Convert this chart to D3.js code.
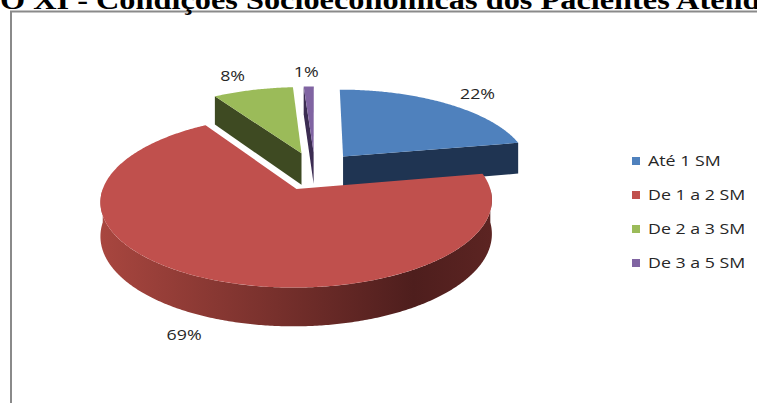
<!DOCTYPE html>
<html>
<head>
<meta charset="utf-8">
<script src="https://cdn.jsdelivr.net/npm/d3@7"></script>
<style>
  html, body { margin: 0; padding: 0; background: #fff; overflow: hidden; }
  svg { display: block; }
</style>
</head>
<body>
<svg id="chart" width="757" height="403"></svg>
<script>
// ---- data ----
const categories = ["Até 1 SM", "De 1 a 2 SM", "De 2 a 3 SM", "De 3 a 5 SM"];
const values = [22, 69, 8, 1];
const valueLabels = ["22%", "69%", "8%", "1%"];
const topColors = ["#4F81BD", "#C0504D", "#9BBB59", "#8064A2"];
const wallColors = ["#1F3452", "#7A302E", "#3E4A22", "#3B2C52"];
const sideLight = ["#2A4670", "#A8463F", "#56682F", "#4E3C6C"];
const sideDark = ["#1A2C46", "#4E1E1D", "#323C1B", "#2E2342"];
const titleText = "GRÁFICO XI - Condições Socioeconômicas dos Pacientes Atendidos";

// ---- view of the tilted pie ----
const W = 757, H = 403;
const cx = 315, cy = 171;      // screen point of the pie centre (top face)
const A = 188;                 // screen half-width of the pie
const K = 0.1357;              // perspective strength
const sinT = 0.424, cosT = 0.906; // tilt of the pie plane
const depth = 0.19;            // thickness, in radii
const explode = 0.24;          // slice offset, in radii
const textStretch = 1.27;      // the whole drawing is a little wider than tall
// small pixel nudges that keep each value label clear of its slice
const labelNudge = [[0, 0], [11, -4], [-6, -3], [-1, -3]];

const svg = d3.select("#chart");
const defs = svg.append("defs");

// Ground-plane point (X to the right, Z towards the viewer, Y up) -> screen
function proj(X, Y, Z) {
  const df = 1 - Z * K;
  return [cx + A * X / df, cy - A * (Y * cosT - Z * sinT) / df];
}

const pie = d3.pie().sort(null).value(d => d);
const arcs = pie(values).map((d, i) => {
  const mid = (d.startAngle + d.endAngle) / 2;
  return Object.assign(d, {
    i, mid,
    ox: explode * Math.sin(mid),
    oz: -explode * Math.cos(mid)
  });
});

const line = d3.line().x(p => p[0]).y(p => p[1]);

function rim(d, a0, a1, Y) {
  const n = Math.max(2, Math.ceil((a1 - a0) / 0.01));
  return d3.range(n + 1).map(j => {
    const t = a0 + (a1 - a0) * j / n;
    return proj(d.ox + Math.sin(t), Y, d.oz - Math.cos(t));
  });
}
function edge(d, t, Y) { return proj(d.ox + Math.sin(t), Y, d.oz - Math.cos(t)); }
function centre(d, Y) { return proj(d.ox, Y, d.oz); }

// ---- frame ----
svg.append("path")
  .attr("d", `M11,${H} V11.5 H${W}`)
  .attr("fill", "none")
  .attr("stroke", "#8a8a8a")
  .attr("stroke-width", 2);

// ---- title (runs past the top edge) ----
const titleFamily = "'Liberation Serif', 'Times New Roman', serif";
const titleSize = 28, titleStretch = 1.155;
const probe = svg.append("text")
  .attr("font-family", titleFamily).attr("font-weight", "bold")
  .attr("font-size", titleSize).text("GRÁFIC");
const lead = probe.node().getComputedTextLength();
probe.remove();
svg.append("g")
  .attr("transform", `translate(${-lead * titleStretch},8.5) scale(${titleStretch},1)`)
  .append("text")
  .attr("font-family", titleFamily)
  .attr("font-weight", "bold")
  .attr("font-size", titleSize)
  .attr("fill", "#000")
  .text(titleText);

// ---- slices, back to front ----
const order = arcs.slice().sort((a, b) => a.oz - b.oz);
const pieG = svg.append("g");

order.forEach(d => {
  const g = pieG.append("g");
  const a0 = d.startAngle, a1 = d.endAngle;

  const grad = defs.append("linearGradient")
    .attr("id", "side" + d.i).attr("x1", 0).attr("x2", 1).attr("y1", 0).attr("y2", 0);
  grad.append("stop").attr("offset", 0).attr("stop-color", sideLight[d.i]);
  grad.append("stop").attr("offset", 0.45).attr("stop-color", d3.interpolateRgb(sideLight[d.i], sideDark[d.i])(0.55));
  grad.append("stop").attr("offset", 0.8).attr("stop-color", sideDark[d.i]);
  grad.append("stop").attr("offset", 1).attr("stop-color", d3.interpolateRgb(sideDark[d.i], sideLight[d.i])(0.15));

  // radial walls facing the viewer
  if (Math.sin(a0) < -1e-6) {
    g.append("path")
      .attr("d", line([centre(d, 0), edge(d, a0, 0), edge(d, a0, -depth), centre(d, -depth)]) + "Z")
      .attr("fill", wallColors[d.i]);
  }
  if (Math.sin(a1) > 1e-6) {
    g.append("path")
      .attr("d", line([centre(d, 0), edge(d, a1, 0), edge(d, a1, -depth), centre(d, -depth)]) + "Z")
      .attr("fill", wallColors[d.i]);
  }
  // outer curved side, front half only
  const lo = Math.max(a0, Math.PI / 2), hi = Math.min(a1, 3 * Math.PI / 2);
  if (hi > lo) {
    const pts = rim(d, lo, hi, 0).concat(rim(d, lo, hi, -depth).reverse());
    g.append("path")
      .attr("d", line(pts) + "Z")
      .attr("fill", `url(#side${d.i})`);
  }
  // top face
  g.append("path")
    .attr("d", line([centre(d, 0)].concat(rim(d, a0, a1, 0))) + "Z")
    .attr("fill", topColors[d.i]);
});

// ---- value labels ----
const labelFont = "'Open Sans', 'Liberation Sans', sans-serif";
arcs.forEach(d => {
  const Z = d.oz - 1.2 * Math.cos(d.mid);
  const X = d.ox + 1.32 * Math.sin(d.mid);
  const p = proj(X, Z > 0 ? -depth : 0, Z);
  const [nx, ny] = labelNudge[d.i];
  svg.append("g")
    .attr("transform", `translate(${p[0] + nx},${p[1] + ny}) scale(${textStretch},1)`)
    .append("text")
    .attr("text-anchor", "middle")
    .attr("dy", "0.35em")
    .attr("font-family", labelFont)
    .attr("font-size", 14)
    .attr("fill", "#262626")
    .text(valueLabels[d.i]);
});

// ---- legend ----
const legendY = d3.scaleBand().domain(categories).range([144, 280]);
const legend = svg.append("g");
categories.forEach((c, i) => {
  const yc = legendY(c) + legendY.bandwidth() / 2;
  legend.append("rect")
    .attr("x", 632).attr("y", yc - 4)
    .attr("width", 8).attr("height", 8)
    .attr("fill", topColors[i]);
  legend.append("g")
    .attr("transform", `translate(648,${yc}) scale(${textStretch},1)`)
    .append("text")
    .attr("dy", "0.35em")
    .attr("font-family", labelFont)
    .attr("font-size", 14)
    .attr("fill", "#262626")
    .text(c);
});
</script>
</body>
</html>
